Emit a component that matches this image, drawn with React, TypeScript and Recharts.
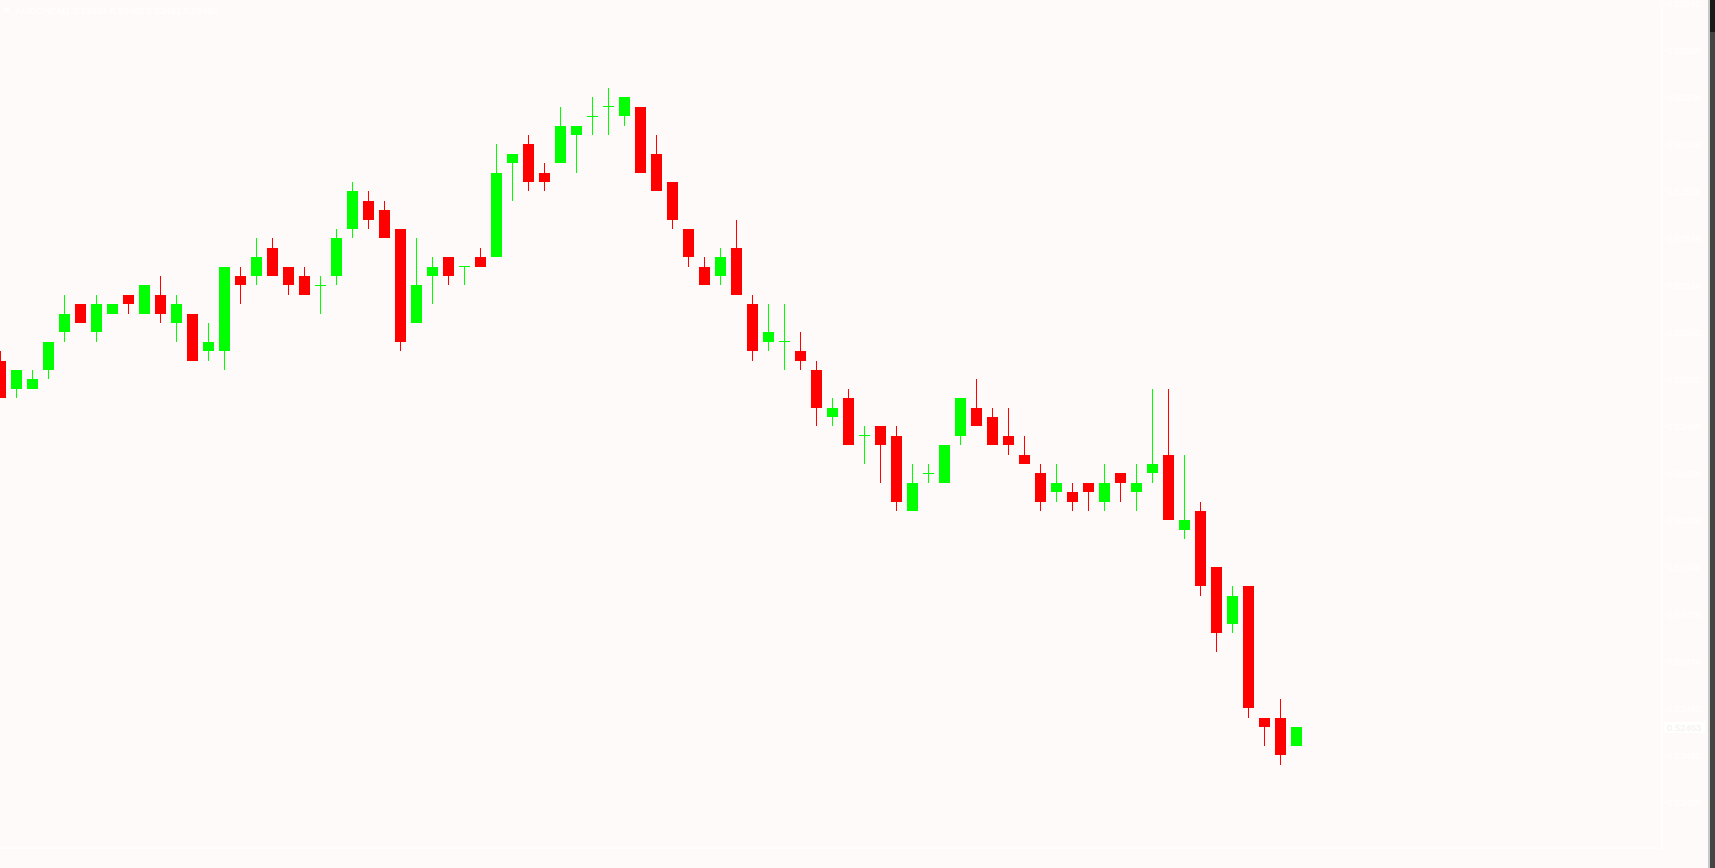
import React from 'react';
import { ComposedChart, Bar, XAxis, YAxis, ReferenceLine } from 'recharts';

const opens = [
  0.52502, 0.52499, 0.52499, 0.52501, 0.52505, 0.52508, 0.52505, 0.52507, 0.52509, 0.52507,
  0.52509, 0.52506, 0.52507, 0.52503, 0.52503, 0.52511, 0.52511, 0.52514, 0.52512, 0.52511,
  0.52510, 0.52511, 0.52516, 0.52519, 0.52518, 0.52516, 0.52506, 0.52511, 0.52513, 0.52512,
  0.52513, 0.52513, 0.52523, 0.52525, 0.52522, 0.52523, 0.52526, 0.52528, 0.52529, 0.52528,
  0.52529, 0.52524, 0.52521, 0.52516, 0.52512, 0.52511, 0.52514, 0.52508, 0.52504, 0.52504,
  0.52503, 0.52501, 0.52496, 0.52498, 0.52494, 0.52495, 0.52494, 0.52486, 0.52490, 0.52489,
  0.52494, 0.52497, 0.52496, 0.52494, 0.52492, 0.52490, 0.52488, 0.52488, 0.52489, 0.52487,
  0.52490, 0.52488, 0.52490, 0.52492, 0.52484, 0.52486, 0.52480, 0.52474, 0.52478, 0.52464,
  0.52464, 0.52461,
];
const highs = [
  0.52503, 0.52501, 0.52501, 0.52504, 0.52509, 0.52508, 0.52509, 0.52508, 0.52509, 0.52510,
  0.52511, 0.52509, 0.52507, 0.52506, 0.52512, 0.52512, 0.52515, 0.52515, 0.52512, 0.52512,
  0.52511, 0.52516, 0.52521, 0.52520, 0.52519, 0.52516, 0.52515, 0.52513, 0.52513, 0.52512,
  0.52514, 0.52525, 0.52524, 0.52526, 0.52523, 0.52529, 0.52527, 0.52530, 0.52531, 0.52530,
  0.52529, 0.52526, 0.52521, 0.52516, 0.52513, 0.52514, 0.52517, 0.52509, 0.52508, 0.52508,
  0.52505, 0.52502, 0.52498, 0.52499, 0.52495, 0.52495, 0.52495, 0.52491, 0.52491, 0.52493,
  0.52498, 0.52500, 0.52497, 0.52497, 0.52494, 0.52491, 0.52491, 0.52489, 0.52489, 0.52491,
  0.52490, 0.52491, 0.52499, 0.52499, 0.52492, 0.52487, 0.52480, 0.52478, 0.52478, 0.52464,
  0.52466, 0.52463,
];
const lows = [
  0.52498, 0.52498, 0.52499, 0.52500, 0.52504, 0.52506, 0.52504, 0.52507, 0.52507, 0.52507,
  0.52506, 0.52504, 0.52502, 0.52502, 0.52501, 0.52508, 0.52510, 0.52511, 0.52509, 0.52509,
  0.52507, 0.52510, 0.52515, 0.52516, 0.52515, 0.52503, 0.52506, 0.52508, 0.52510, 0.52510,
  0.52512, 0.52513, 0.52519, 0.52520, 0.52520, 0.52523, 0.52522, 0.52526, 0.52526, 0.52527,
  0.52522, 0.52520, 0.52516, 0.52512, 0.52510, 0.52510, 0.52509, 0.52502, 0.52503, 0.52501,
  0.52501, 0.52495, 0.52495, 0.52493, 0.52491, 0.52489, 0.52486, 0.52486, 0.52489, 0.52489,
  0.52493, 0.52495, 0.52493, 0.52492, 0.52491, 0.52486, 0.52487, 0.52486, 0.52486, 0.52486,
  0.52487, 0.52486, 0.52489, 0.52485, 0.52483, 0.52477, 0.52471, 0.52473, 0.52464, 0.52461,
  0.52459, 0.52461,
];
const closes = [
  0.52498, 0.52501, 0.52500, 0.52504, 0.52507, 0.52506, 0.52508, 0.52508, 0.52508, 0.52510,
  0.52507, 0.52508, 0.52502, 0.52504, 0.52512, 0.52510, 0.52513, 0.52511, 0.52510, 0.52509,
  0.52510, 0.52515, 0.52520, 0.52517, 0.52515, 0.52504, 0.52510, 0.52512, 0.52511, 0.52512,
  0.52512, 0.52522, 0.52524, 0.52521, 0.52521, 0.52527, 0.52527, 0.52528, 0.52529, 0.52530,
  0.52522, 0.52520, 0.52517, 0.52513, 0.52510, 0.52513, 0.52509, 0.52503, 0.52505, 0.52504,
  0.52502, 0.52497, 0.52497, 0.52493, 0.52494, 0.52493, 0.52487, 0.52489, 0.52490, 0.52493,
  0.52498, 0.52495, 0.52493, 0.52493, 0.52491, 0.52487, 0.52489, 0.52487, 0.52488, 0.52489,
  0.52489, 0.52489, 0.52491, 0.52485, 0.52485, 0.52478, 0.52473, 0.52477, 0.52465, 0.52463,
  0.52460, 0.52463,
];

const priceTicks = [
  0.52455, 0.5246, 0.52465, 0.5247, 0.52475, 0.5248, 0.52485, 0.5249, 0.52495, 0.525,
  0.52505, 0.5251, 0.52515, 0.5252, 0.52525, 0.5253, 0.52535, 0.5254,
];
const symbolName = 'AUDCHF,M1';
const lastBar = { open: 0.52461, high: 0.52463, low: 0.52461, close: 0.52463 };
const lastPrice = 0.52463;

const data = opens.map((o, i) => ({
  i,
  open: o,
  high: highs[i],
  low: lows[i],
  close: closes[i],
  range: [lows[i], highs[i]],
}));

const BULL = '#00FF00';
const BEAR = '#FF0000';
const BG = '#FFFAFA';
const FG = '#FFFFFF';
const FONT = '"Liberation Sans", Arial, sans-serif';

const Candle = (props: any) => {
  const { x, y, width, height, payload } = props;
  if (x == null || y == null || !payload) return null;
  const { open, close, high, low } = payload;
  const cx = x + width / 2;
  const span = high - low;
  const k = span > 0 ? height / span : 0;
  const yOf = (p: number) => y + (high - p) * k;
  const color = close >= open ? BULL : BEAR;
  const top = yOf(Math.max(open, close));
  const bot = yOf(Math.min(open, close));
  const doji = open === close;
  return (
    <g shapeRendering="crispEdges">
      <rect x={cx - 0.5} y={y} width={1} height={Math.max(1, height)} fill={color} />
      <rect
        x={cx - 5.5}
        y={doji ? top - 0.5 : top}
        width={11}
        height={doji ? 1 : Math.max(1, bot - top)}
        fill={color}
      />
    </g>
  );
};

const PriceLabel = (props: any) => {
  const vb = props.viewBox || {};
  const xr = (vb.x || 0) + (vb.width || 0);
  const yc = vb.y || 0;
  return (
    <g>
      <rect x={xr + 2} y={yc - 5.5} width={41} height={11} fill="#FFFFFF" />
      <text
        x={xr + 5}
        y={yc}
        dy="0.35em"
        fill="#F4EFEF"
        fontSize={9.5}
        fontFamily={FONT}
      >
        {lastPrice.toFixed(5)}
      </text>
    </g>
  );
};

export default function App() {
  const headerText = `${symbolName}  ${lastBar.open.toFixed(5)} ${lastBar.high.toFixed(5)} ${lastBar.low.toFixed(5)} ${lastBar.close.toFixed(5)}`;
  return (
    <div
      style={{
        position: 'fixed',
        left: 0,
        top: 0,
        width: 1715,
        height: 868,
        background: BG,
        overflow: 'hidden',
      }}
    >
      <ComposedChart
        width={1715}
        height={868}
        data={data}
        margin={{ top: 3, right: 0, bottom: 0, left: 0 }}
      >
        <XAxis
          xAxisId={0}
          type="number"
          dataKey="i"
          domain={[-0.0625, 103.8125]}
          allowDataOverflow
          height={20}
          tick={false}
          tickLine={false}
          axisLine={{ stroke: FG }}
        />
        <XAxis
          xAxisId="top"
          orientation="top"
          type="number"
          dataKey="i"
          domain={[-0.0625, 103.8125]}
          allowDataOverflow
          height={0}
          tick={false}
          tickLine={false}
          axisLine={{ stroke: FG }}
        />
        <YAxis
          orientation="right"
          width={53}
          type="number"
          domain={[0.5245016, 0.5254004]}
          allowDataOverflow
          ticks={priceTicks}
          interval={0}
          tickSize={3}
          tickMargin={2}
          tickLine={{ stroke: FG }}
          axisLine={{ stroke: FG }}
          tick={{ fill: FG, fontSize: 9.5, fontFamily: FONT }}
          tickFormatter={(v: number) => v.toFixed(5)}
        />
        <Bar
          dataKey="range"
          barSize={11}
          shape={<Candle />}
          isAnimationActive={false}
        />
        <ReferenceLine
          y={lastPrice}
          stroke="none"
          ifOverflow="extendDomain"
          label={<PriceLabel />}
        />
      </ComposedChart>
      <svg
        width={1715}
        height={868}
        style={{ position: 'absolute', left: 0, top: 0, pointerEvents: 'none' }}
      >
        <polygon points="3,8 10,8 6.5,13" fill={FG} />
        <text x={16} y={14} fill={FG} fontSize={9.5} fontFamily={FONT}>
          {headerText}
        </text>
        <rect x={1708} y={0} width={2} height={868} fill="#C8C8C8" />
        <rect x={1710} y={0} width={5} height={868} fill="#444444" />
        <rect x={1710} y={0} width={5} height={32} fill="#1A1A1A" />
      </svg>
    </div>
  );
}
